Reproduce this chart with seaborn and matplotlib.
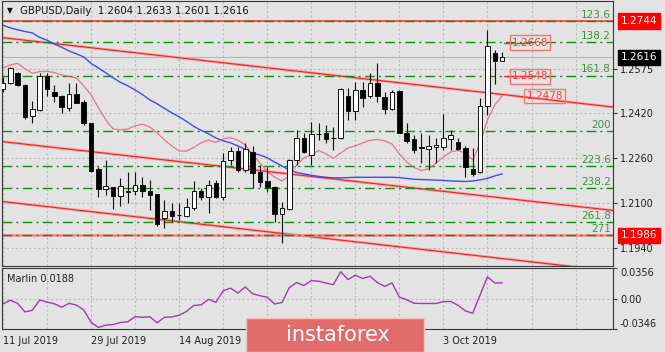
import numpy as np
import pandas as pd
import matplotlib
matplotlib.use("Agg")
import matplotlib.pyplot as plt
from matplotlib.patches import Rectangle
import seaborn as sns

# ---- data (GBPUSD daily) ----
opens = [1.2504, 1.2524, 1.2559, 1.2518, 1.2408, 1.2430, 1.2551, 1.2494, 1.2479, 1.2436,
         1.2485, 1.2457, 1.2382, 1.2220, 1.2149, 1.2157, 1.2125, 1.2139, 1.2141, 1.2162,
         1.2141, 1.2131, 1.2046, 1.2072, 1.2057, 1.2054, 1.2084, 1.2144, 1.2123, 1.2170,
         1.2123, 1.2253, 1.2284, 1.2217, 1.2282, 1.2208, 1.2178, 1.2158, 1.2061, 1.2078,
         1.2253, 1.2329, 1.2270, 1.2344, 1.2347, 1.2331, 1.2329, 1.2477, 1.2427, 1.2500,
         1.2477, 1.2524, 1.2475, 1.2432, 1.2498, 1.2349, 1.2326, 1.2297, 1.2292, 1.2299,
         1.2298, 1.2327, 1.2317, 1.2294, 1.2220, 1.2208, 1.2444, 1.2630, 1.2604]
highs = [1.2546, 1.2580, 1.2563, 1.2522, 1.2461, 1.2559, 1.2559, 1.2518, 1.2482, 1.2524,
         1.2524, 1.2465, 1.2384, 1.2229, 1.2253, 1.2158, 1.2188, 1.2210, 1.2211, 1.2191,
         1.2182, 1.2133, 1.2111, 1.2099, 1.2101, 1.2117, 1.2178, 1.2152, 1.2182, 1.2182,
         1.2278, 1.2298, 1.2298, 1.2314, 1.2300, 1.2235, 1.2229, 1.2160, 1.2105, 1.2255,
         1.2359, 1.2347, 1.2388, 1.2382, 1.2376, 1.2370, 1.2506, 1.2506, 1.2530, 1.2530,
         1.2559, 1.2595, 1.2494, 1.2500, 1.2500, 1.2382, 1.2341, 1.2347, 1.2341, 1.2329,
         1.2415, 1.2359, 1.2329, 1.2300, 1.2294, 1.2471, 1.2713, 1.2642, 1.2633]
lows = [1.2493, 1.2522, 1.2515, 1.2398, 1.2382, 1.2424, 1.2477, 1.2459, 1.2420, 1.2424,
        1.2453, 1.2376, 1.2211, 1.2121, 1.2129, 1.2078, 1.2090, 1.2100, 1.2129, 1.2121,
        1.2076, 1.2019, 1.2011, 1.2034, 1.2040, 1.2050, 1.2076, 1.2111, 1.2064, 1.2118,
        1.2111, 1.2235, 1.2211, 1.2211, 1.2152, 1.2158, 1.2140, 1.2031, 1.1958, 1.2076,
        1.2235, 1.2276, 1.2235, 1.2323, 1.2312, 1.2288, 1.2326, 1.2394, 1.2394, 1.2441,
        1.2471, 1.2459, 1.2415, 1.2430, 1.2347, 1.2312, 1.2276, 1.2241, 1.2217, 1.2241,
        1.2288, 1.2288, 1.2286, 1.2193, 1.2196, 1.2205, 1.2412, 1.2522, 1.2601]
closes = [1.2525, 1.2577, 1.2516, 1.2404, 1.2432, 1.2550, 1.2503, 1.2477, 1.2441, 1.2485,
          1.2455, 1.2382, 1.2214, 1.2150, 1.2159, 1.2125, 1.2160, 1.2141, 1.2162, 1.2141,
          1.2129, 1.2026, 1.2072, 1.2054, 1.2059, 1.2087, 1.2144, 1.2123, 1.2165, 1.2123,
          1.2250, 1.2284, 1.2217, 1.2290, 1.2205, 1.2176, 1.2158, 1.2061, 1.2082, 1.2253,
          1.2329, 1.2282, 1.2344, 1.2346, 1.2326, 1.2329, 1.2503, 1.2427, 1.2500, 1.2471,
          1.2524, 1.2477, 1.2432, 1.2494, 1.2349, 1.2321, 1.2286, 1.2295, 1.2300, 1.2304,
          1.2329, 1.2339, 1.2290, 1.2229, 1.2202, 1.2444, 1.2656, 1.2604, 1.2616]

ma_fast = [1.2578, 1.2589, 1.2594, 1.2575, 1.2559, 1.2565, 1.2566, 1.2562, 1.2553, 1.2548,
           1.2542, 1.2515, 1.2483, 1.2437, 1.2394, 1.2362, 1.2359, 1.2362, 1.2373, 1.2379,
           1.2369, 1.2348, 1.2323, 1.2302, 1.2284, 1.2284, 1.2297, 1.2313, 1.2323, 1.2314,
           1.2327, 1.2331, 1.2322, 1.2306, 1.2270, 1.2242, 1.2211, 1.2192, 1.2178, 1.2196,
           1.2235, 1.2260, 1.2270, 1.2286, 1.2274, 1.2258, 1.2277, 1.2295, 1.2302, 1.2313,
           1.2322, 1.2325, 1.2320, 1.2309, 1.2274, 1.2245, 1.2226, 1.2215, 1.2221, 1.2242,
           1.2263, 1.2281, 1.2286, 1.2276, 1.2253, 1.2313, 1.2394, 1.2447, 1.2479]
ma_slow = [1.2729, 1.2720, 1.2713, 1.2707, 1.2702, 1.2686, 1.2676, 1.2663, 1.2651, 1.2638,
           1.2628, 1.2617, 1.2594, 1.2578, 1.2561, 1.2543, 1.2527, 1.2515, 1.2500, 1.2484,
           1.2465, 1.2451, 1.2435, 1.2419, 1.2405, 1.2389, 1.2371, 1.2357, 1.2345, 1.2330,
           1.2320, 1.2313, 1.2302, 1.2290, 1.2276, 1.2270, 1.2260, 1.2245, 1.2231, 1.2217,
           1.2208, 1.2203, 1.2198, 1.2194, 1.2191, 1.2189, 1.2189, 1.2190, 1.2191, 1.2191,
           1.2191, 1.2191, 1.2191, 1.2191, 1.2190, 1.2187, 1.2184, 1.2183, 1.2182, 1.2181,
           1.2180, 1.2178, 1.2177, 1.2176, 1.2178, 1.2182, 1.2187, 1.2196, 1.2203]
marlin = [-0.0055, -0.0014, -0.0049, -0.0149, -0.0129, -0.0011, -0.0035, -0.0055, -0.0094, -0.0049,
          -0.0070, -0.0125, -0.0269, -0.0328, -0.0301, -0.0295, -0.0271, -0.0262, -0.0204, -0.0211,
          -0.0204, -0.0274, -0.0211, -0.0207, -0.0186, -0.0143, -0.0073, -0.0067, -0.0002, -0.0037,
          0.0097, 0.0126, 0.0070, 0.0140, 0.0062, 0.0039, 0.0021, -0.0057, -0.0040, 0.0132,
          0.0191, 0.0156, 0.0214, 0.0206, 0.0185, 0.0167, 0.0316, 0.0226, 0.0276, 0.0238,
          0.0264, 0.0191, 0.0147, 0.0187, 0.0023, -0.0008, -0.0049, -0.0051, -0.0051, -0.0051,
          -0.0029, -0.0028, -0.0073, -0.0137, -0.0164, 0.0050, 0.0257, 0.0187, 0.0188]

# channel lines: (bar, price) at both ends
trend_lines = [((-1, 1.2688), (84, 1.2437)),
               ((-1, 1.2320), (84, 1.2071)),
               ((-1, 1.2108), (84, 1.1856))]

fib_names = ["123.6", "138.2", "161.8", "200", "223.6", "238.2", "261.8", "271"]
fib_levels = [1.2744, 1.2670, 1.2550, 1.2355, 1.2231, 1.2152, 1.2032, 1.1986]

resist_level = 1.2744
support_level = 1.1986
price_ticks = [1.2575, 1.2420, 1.2260, 1.2100, 1.1940]
marlin_ticks = [0.0356, 0.0, -0.0346]
marlin_tick_labels = ["0.0356", "0.00", "-0.0346"]
target_labels = [1.2668, 1.2548, 1.2478]
# date labels hidden behind the watermark in the original
hidden_dates = ["30 Aug 2019", "17 Sep 2019"]

dates = pd.bdate_range("2019-07-11", periods=len(closes))

# ---- figure ----
sns.set_theme(style="white")
plt.rcParams["font.family"] = ["DejaVu Sans"]
BG = "#e3e3e3"
W, H = 665, 352


def fx(px):
    return px / W


def fy(py):
    return 1 - py / H


fig = plt.figure(figsize=(W / 100, H / 100), dpi=100, facecolor=BG)
ax = fig.add_axes([fx(2), fy(266), fx(613) - fx(2), fy(1) - fy(266)], facecolor=BG)
axm = fig.add_axes([fx(2), fy(329), fx(613) - fx(2), fy(268.3) - fy(329)], facecolor=BG)

n = len(closes)
idx = np.arange(n)
o, h, l, c = map(np.array, (opens, highs, lows, closes))
xlim = (-0.136, 83.1)

grid_kw = dict(color="#bcbcbc", lw=0.8, ls=(0, (2, 2)), zorder=0)
for a in (ax, axm):
    a.set_xlim(*xlim)
    for b in range(0, 84, 6):
        a.axvline(b, **grid_kw)
    for s in a.spines.values():
        s.set_color("#3a3a3a")
        s.set_linewidth(0.8)

# main panel
ax.set_ylim(1.1877, 1.2815)
for p in price_ticks:
    ax.axhline(p, **grid_kw)
ax.axhline(closes[-1], color="#b4b4b4", lw=0.8, zorder=1)

for (x0, y0), (x1, y1) in trend_lines:
    ax.plot([x0, x1], [y0, y1], color="#f4a8a8", lw=2.0, zorder=1, solid_capstyle="butt")
    ax.plot([x0, x1], [y0, y1], color="#ff1a1a", lw=0.8, zorder=1)

ax.axhline(resist_level, color="#ff2a2a", lw=1.1, zorder=1)
ax.axhline(support_level, color="#f08a8a", lw=1.8, zorder=1)
for lev, name in zip(fib_levels, fib_names):
    ax.axhline(lev, color="#138a17", lw=1.0, ls=(0, (7, 3, 1.5, 3)), zorder=2)
    ax.annotate(name, xy=(0.997, lev), xycoords=ax.get_yaxis_transform(),
                xytext=(0, 1), textcoords="offset points",
                ha="right", va="bottom", fontsize=7.5, color="#3a963a", zorder=6)

df = pd.DataFrame({"bar": idx, "fast": ma_fast, "slow": ma_slow, "marlin": marlin})
sns.lineplot(data=df, x="bar", y="slow", ax=ax, color="#3a4cf0", lw=1.0, zorder=2, legend=False)
sns.lineplot(data=df, x="bar", y="fast", ax=ax, color="#e8607c", lw=0.9, alpha=0.85, zorder=2, legend=False)

# candles
up = c >= o
ax.vlines(idx, l, h, color="#111111", lw=0.8, zorder=3)
body = np.maximum(np.abs(c - o), 0.00008)
ax.bar(idx, body, bottom=np.minimum(o, c), width=0.62,
       color=np.where(up, "white", "black"), edgecolor="#111111", lw=0.7, zorder=4)

# price labels inside chart
for lev, xb, xs in zip(target_labels, [71.8, 71.8, 73.8], [68.2, 68.2, None]):
    if xs is not None:
        ax.plot([xs, xb], [lev, lev], color="#ff3030", lw=1.0, zorder=5)
    ax.text(xb, lev, f"{lev:.4f}", ha="center", va="center", fontsize=7.5, color="#ff3a3a", zorder=6,
            bbox=dict(boxstyle="square,pad=0.2", fc="none", ec="#ff7070", lw=1.0))

ax.yaxis.tick_right()
ax.set_yticks(price_ticks)
ax.set_yticklabels([f"{p:.4f}" for p in price_ticks], fontsize=7, color="#202020")
ax.tick_params(axis="y", length=3, width=0.8, color="#3a3a3a", pad=2)
ax.set_xticks([])
ax.set_xlabel("")
ax.set_ylabel("")

for lev, fc in ((resist_level, "#ff0000"), (closes[-1], "#000000"), (support_level, "#ff0000")):
    ax.annotate(f"{lev:.4f}", xy=(1.0, lev), xycoords=ax.get_yaxis_transform(),
                xytext=(5.5, 0), textcoords="offset points", ha="left", va="center",
                fontsize=7.5, color="white", annotation_clip=False, zorder=8,
                bbox=dict(boxstyle="square,pad=0.25", fc=fc, ec=fc))

# Marlin panel
axm.set_ylim(-0.0346, 0.0356)
axm.axhline(0, **grid_kw)
sns.lineplot(data=df, x="bar", y="marlin", ax=axm, color="#a03cb0", lw=1.0, legend=False)
axm.yaxis.tick_right()
axm.set_yticks(marlin_ticks)
axm.set_yticklabels(marlin_tick_labels, fontsize=7, color="#202020")
ylabs = axm.get_yticklabels()
ylabs[0].set_va("top")
ylabs[-1].set_va("bottom")
axm.tick_params(axis="y", length=3, width=0.8, color="#3a3a3a", pad=2)
label_bars = list(range(0, n, 12))
date_texts = [f"{d.day} {d:%b %Y}" for d in dates[label_bars]]
date_texts = ["" if t in hidden_dates else t for t in date_texts]
axm.set_xticks(label_bars)
axm.set_xticklabels(date_texts, fontsize=7, color="#202020")
for t in axm.get_xticklabels():
    t.set_ha("left")
axm.tick_params(axis="x", length=3, width=0.8, color="#3a3a3a", pad=2)
axm.set_xlabel("")
axm.set_ylabel("")
axm.text(0.008, 0.83, f"Marlin {marlin[-1]:.4f}", transform=axm.transAxes,
         fontsize=7, color="#202020", va="center")

# header
fig.text(fx(7), fy(11), "\u25bc", fontsize=5.5, color="#111111", va="center")
fig.text(fx(20), fy(11), f"GBPUSD,Daily  {opens[-1]:.4f} {highs[-1]:.4f} {lows[-1]:.4f} {closes[-1]:.4f}",
         fontsize=7.3, color="#111111", va="center")

# watermark
fig.add_artist(Rectangle((fx(246), fy(352)), fx(424) - fx(246), fy(318) - fy(352),
                         transform=fig.transFigure, fc="#e26c6c", ec="#f3c4c4", lw=1.0, zorder=20))
fig.text(fx(338), fy(335), "instaforex", fontsize=15, color="white", ha="center", va="center", zorder=21)

fig.savefig("out.png", dpi=100, facecolor=BG)
